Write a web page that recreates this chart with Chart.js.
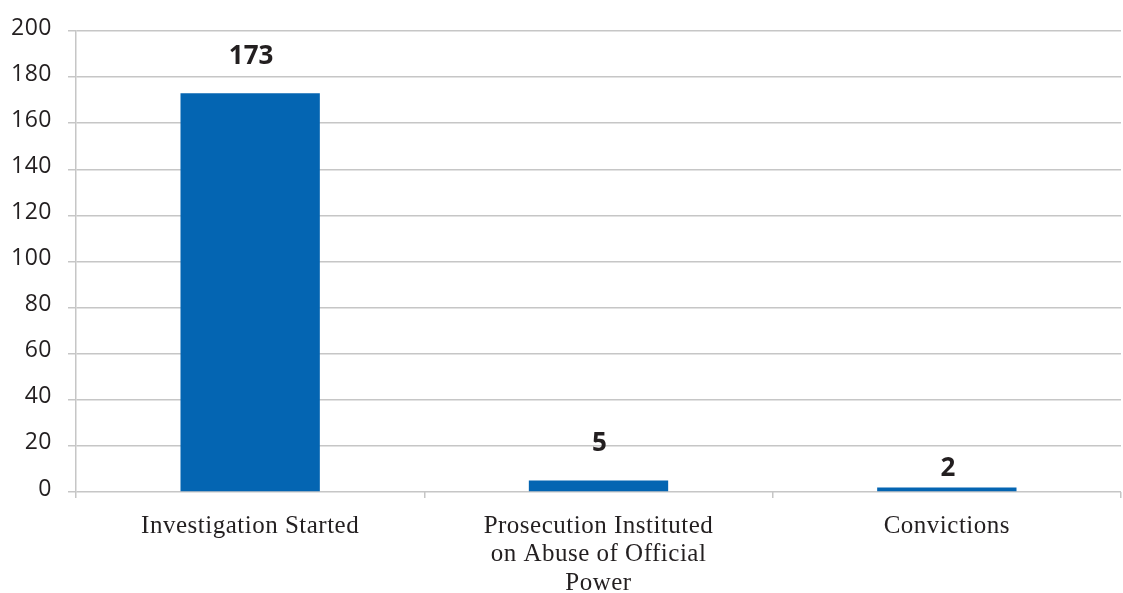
<!DOCTYPE html>
<html>
<head>
<meta charset="utf-8">
<script src="https://cdn.jsdelivr.net/npm/chart.js@4"></script>
<style>
  html, body { margin: 0; padding: 0; background: #fff; }
  #wrap { width: 1123px; height: 593px; }
</style>
</head>
<body>
<div id="wrap"><canvas id="caseChart"></canvas></div>
<script>
const categories = [
  "Investigation Started",
  ["Prosecution Instituted", "on Abuse of Official", "Power"],
  "Convictions"
];
const caseCounts = [173, 5, 2];
const yTicks = [0, 20, 40, 60, 80, 100, 120, 140, 160, 180, 200];

const gridGray = "#c6c6c6";
const inkColor = "#231f20";

// slightly open tracking for the category captions
const tracking = {
  id: "tracking",
  beforeDraw(chart) { chart.ctx.letterSpacing = "0.5px"; },
  afterDraw(chart) { chart.ctx.letterSpacing = "0px"; }
};

// numbers printed above each bar
const valueLabels = {
  id: "valueLabels",
  afterDatasetsDraw(chart, args, opts) {
    const ctx = chart.ctx;
    const meta = chart.getDatasetMeta(0);
    ctx.save();
    ctx.letterSpacing = "0px";
    ctx.font = "bold 26px 'Open Sans'";
    ctx.fillStyle = inkColor;
    ctx.textAlign = "center";
    ctx.textBaseline = "alphabetic";
    meta.data.forEach((bar, i) => {
      ctx.fillText(String(caseCounts[i]), bar.x + 1, bar.y - opts.gaps[i]);
    });
    ctx.restore();
  }
};

new Chart(document.getElementById("caseChart").getContext("2d"), {
  type: "bar",
  data: {
    labels: categories,
    datasets: [{
      data: caseCounts,
      backgroundColor: "#0465b2",
      borderWidth: 0,
      categoryPercentage: 1,
      barPercentage: 0.4
    }]
  },
  plugins: [tracking, valueLabels],
  options: {
    responsive: true,
    maintainAspectRatio: false,
    animation: false,
    layout: { padding: { top: 31, right: 2, left: 0, bottom: 0 } },
    plugins: {
      legend: { display: false },
      tooltip: { enabled: false },
      valueLabels: { gaps: [29, 29, 11] }
    },
    scales: {
      x: {
        grid: {
          offset: true,
          drawOnChartArea: false,
          drawTicks: true,
          tickLength: 6,
          color: gridGray,
          lineWidth: 1.5
        },
        border: { display: false },
        ticks: {
          color: inkColor,
          padding: 14,
          maxRotation: 0,
          autoSkip: false,
          font: { family: "'Liberation Serif', serif", size: 25, lineHeight: 1.14 }
        },
        afterFit(scale) { scale.height = 101; }
      },
      y: {
        min: 0,
        max: 200,
        afterBuildTicks(scale) { scale.ticks = yTicks.map(v => ({ value: v })); },
        grid: {
          color: gridGray,
          lineWidth: 1.5,
          tickLength: 8
        },
        border: { display: true, color: gridGray, width: 1.5 },
        ticks: {
          color: inkColor,
          padding: 16,
          labelOffset: -3,
          font: { family: "'Open Sans', sans-serif", size: 23 }
        },
        afterFit(scale) { scale.width = 76; }
      }
    }
  }
});
</script>
</body>
</html>
